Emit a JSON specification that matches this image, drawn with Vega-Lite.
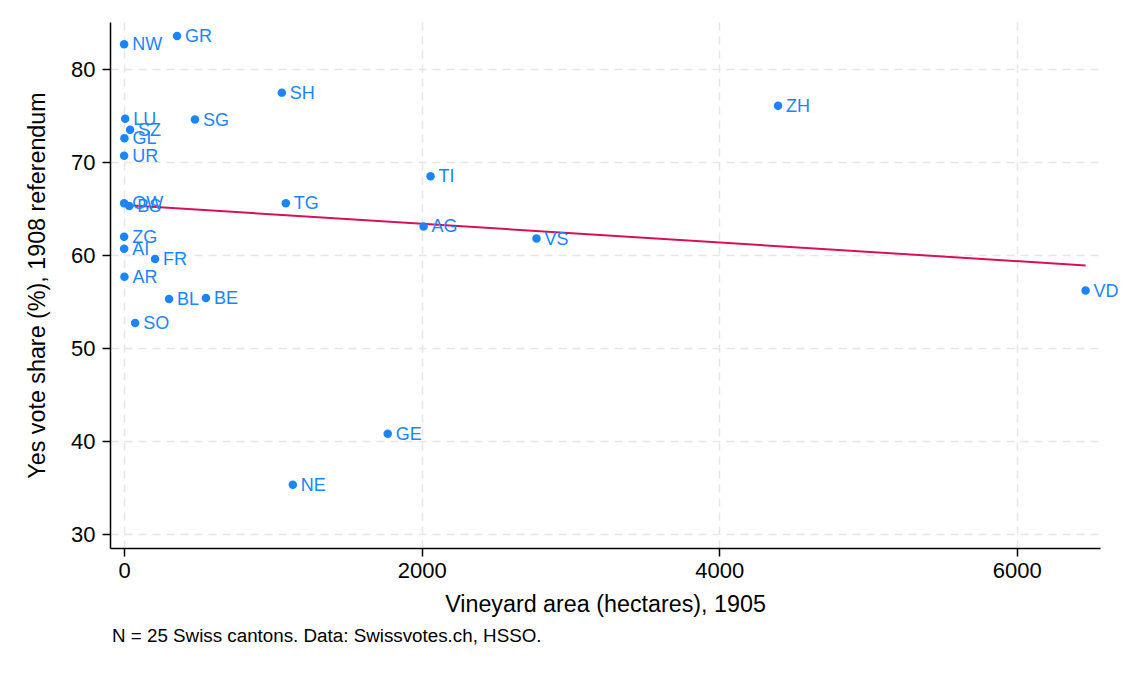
{
  "$schema": "https://vega.github.io/schema/vega-lite/v6.json",
  "autosize": "none",
  "padding": {"left": 110, "top": 22, "right": 25, "bottom": 127},
  "width": 990,
  "height": 526,
  "background": "white",
  "title": {
    "text": "N = 25 Swiss cantons. Data: Swissvotes.ch, HSSO.",
    "orient": "bottom",
    "anchor": "start",
    "frame": "group",
    "offset": 12,
    "dx": 2,
    "font": "Liberation Sans",
    "fontSize": 18.8,
    "fontWeight": "normal",
    "color": "black"
  },
  "datasets": {
    "cantons": [
      {"canton": "NW", "vineyard": 0, "yes": 82.7},
      {"canton": "GR", "vineyard": 356, "yes": 83.6},
      {"canton": "SH", "vineyard": 1060, "yes": 77.5},
      {"canton": "ZH", "vineyard": 4396, "yes": 76.1},
      {"canton": "LU", "vineyard": 7, "yes": 74.7},
      {"canton": "SZ", "vineyard": 40, "yes": 73.5},
      {"canton": "SG", "vineyard": 476, "yes": 74.6},
      {"canton": "GL", "vineyard": 2, "yes": 72.6},
      {"canton": "UR", "vineyard": 0, "yes": 70.7},
      {"canton": "TI", "vineyard": 2060, "yes": 68.5},
      {"canton": "OW", "vineyard": 0, "yes": 65.6},
      {"canton": "BS", "vineyard": 35, "yes": 65.3},
      {"canton": "TG", "vineyard": 1087, "yes": 65.6},
      {"canton": "ZG", "vineyard": 0, "yes": 62.0},
      {"canton": "AG", "vineyard": 2013, "yes": 63.1},
      {"canton": "VS", "vineyard": 2772, "yes": 61.8},
      {"canton": "AI", "vineyard": 0, "yes": 60.7},
      {"canton": "FR", "vineyard": 208, "yes": 59.6},
      {"canton": "AR", "vineyard": 2, "yes": 57.7},
      {"canton": "BL", "vineyard": 302, "yes": 55.3},
      {"canton": "BE", "vineyard": 550, "yes": 55.4},
      {"canton": "SO", "vineyard": 74, "yes": 52.7},
      {"canton": "VD", "vineyard": 6463, "yes": 56.2},
      {"canton": "GE", "vineyard": 1772, "yes": 40.8},
      {"canton": "NE", "vineyard": 1134, "yes": 35.3}
    ],
    "fit": [
      {"vineyard": 0, "yes": 65.4},
      {"vineyard": 6463, "yes": 58.9}
    ]
  },
  "encoding": {
    "x": {
      "field": "vineyard",
      "type": "quantitative",
      "scale": {"domain": [-95, 6560], "nice": false, "zero": false},
      "axis": {
        "title": "Vineyard area (hectares), 1905",
        "values": [0, 2000, 4000, 6000],
        "format": "d",
        "grid": true
      }
    },
    "y": {
      "field": "yes",
      "type": "quantitative",
      "scale": {"domain": [28.5, 85.1], "nice": false, "zero": false},
      "axis": {
        "title": "Yes vote share (%), 1908 referendum",
        "values": [30, 40, 50, 60, 70, 80],
        "grid": true
      }
    }
  },
  "layer": [
    {
      "data": {"name": "fit"},
      "mark": {"type": "line", "color": "#D41159", "strokeWidth": 2}
    },
    {
      "data": {"name": "cantons"},
      "mark": {"type": "point", "filled": true, "size": 72, "opacity": 1, "color": "#1A85FF"}
    },
    {
      "data": {"name": "cantons"},
      "mark": {
        "type": "text",
        "align": "left",
        "baseline": "middle",
        "dx": 8,
        "dy": 1,
        "font": "Liberation Sans",
        "fontSize": 18,
        "color": "#1A85FF"
      },
      "encoding": {"text": {"field": "canton"}}
    }
  ],
  "config": {
    "view": {"stroke": null},
    "axis": {
      "domainColor": "black",
      "domainWidth": 1.5,
      "tickColor": "black",
      "tickSize": 8,
      "tickWidth": 1.5,
      "labelFont": "Liberation Sans",
      "labelFontSize": 22,
      "labelColor": "black",
      "titleFont": "Liberation Sans",
      "titleFontSize": 23.3,
      "titleFontWeight": "normal",
      "titleColor": "black",
      "gridColor": "#e6e6e6",
      "gridDash": [8, 6],
      "gridWidth": 1.5
    },
    "axisX": {"titlePadding": 12, "labelPadding": 4},
    "axisY": {"titlePadding": 21, "labelPadding": 7}
  }
}
